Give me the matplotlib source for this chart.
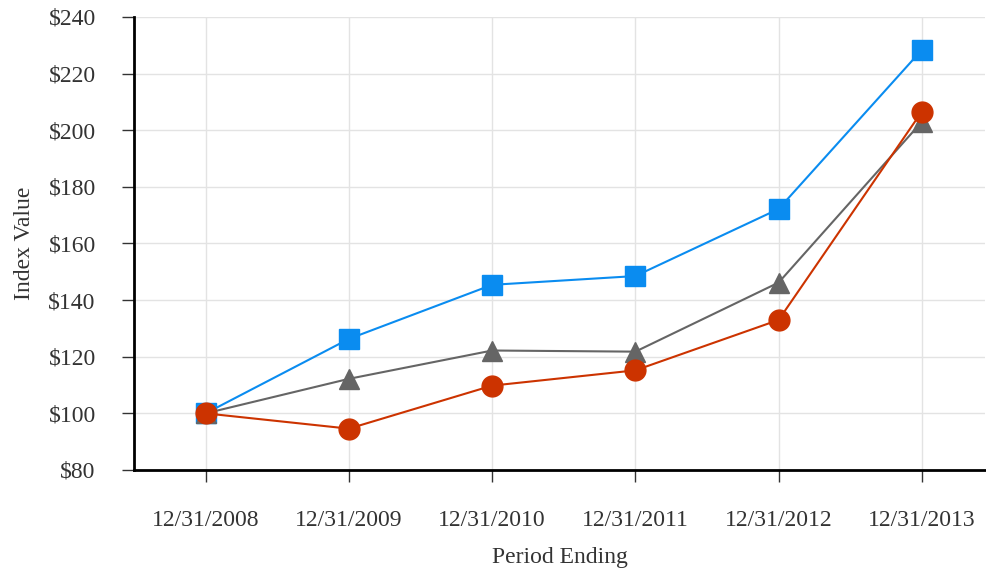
import matplotlib
matplotlib.use("Agg")
import matplotlib.pyplot as plt

periods = ["12/31/2008", "12/31/2009", "12/31/2010", "12/31/2011", "12/31/2012", "12/31/2013"]
blue_vals = [100, 126.3, 145.4, 148.5, 172.2, 228.4]
gray_vals = [100, 112.2, 122.2, 121.8, 146.2, 203.0]
red_vals = [100, 94.6, 109.8, 115.2, 133.0, 206.6]
yticks = [80, 100, 120, 140, 160, 180, 200, 220, 240]

plt.rcParams['font.family'] = ['Liberation Serif', 'DejaVu Serif']

fig = plt.figure(figsize=(9.86, 5.74), dpi=100)
ax = fig.add_axes([0.1359, 0.1812, 0.863, 0.7892])

x = list(range(len(periods)))
ax.plot(x, blue_vals, color='#0A8CF0', lw=1.5, marker='s', ms=15, zorder=3)
ax.plot(x, gray_vals, color='#656565', lw=1.5, marker='^', ms=15, zorder=4)
ax.plot(x, red_vals, color='#CC3300', lw=1.5, marker='o', ms=15, zorder=5)

ax.set_xlim(-0.5, 5.44)
ax.set_ylim(80, 240)
ax.set_yticks(yticks)
ax.set_yticklabels([f"${v}" for v in yticks], fontsize=17, color='#333333')
ax.set_xticks(x)
ax.set_xticklabels(periods, fontsize=17, color='#333333')
ax.grid(True, color='#E3E3E3', lw=1.0)
ax.set_axisbelow(True)

for s in ['top', 'right']:
    ax.spines[s].set_visible(False)
ax.spines['left'].set_linewidth(2)
ax.spines['bottom'].set_linewidth(2)
ax.tick_params(axis='y', direction='out', length=8.5, width=1, color='#333333', pad=19)
ax.tick_params(axis='x', direction='out', length=8.5, width=1, color='#333333', pad=20)

ax.set_xlabel("Period Ending", fontsize=17, color='#333333', labelpad=12)
ax.set_ylabel("Index Value", fontsize=17, color='#333333', labelpad=10)

fig.savefig("out.png", dpi=100)
